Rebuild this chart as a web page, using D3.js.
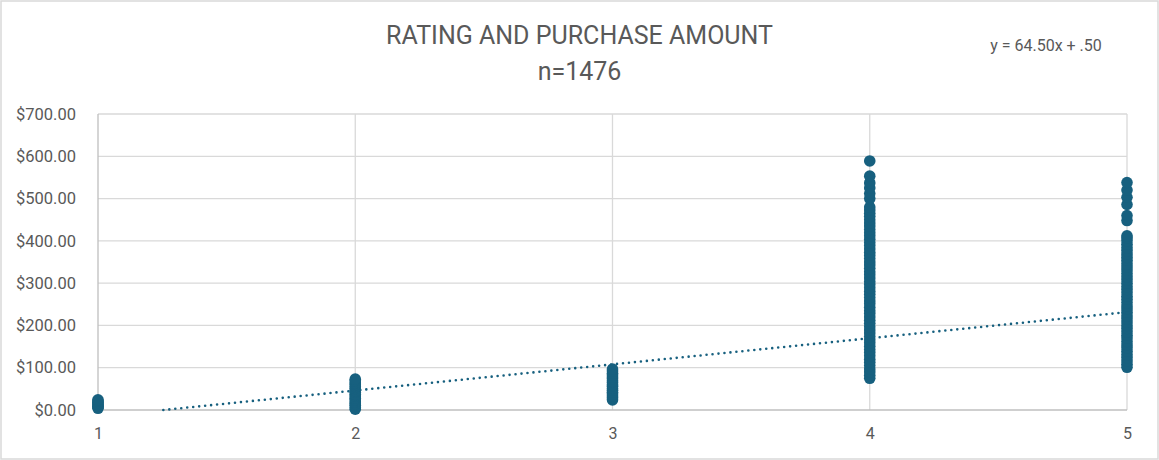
<!DOCTYPE html>
<html>
<head>
<meta charset="utf-8">
<script src="https://cdn.jsdelivr.net/npm/d3@7"></script>
<style>
  html, body { margin: 0; padding: 0; background: #fff; }
  svg { display: block; font-family: Roboto, "Liberation Sans", sans-serif; }
</style>
</head>
<body>
<div id="chart"></div>
<script>
// Rating categories and purchase amounts (dense columns are listed at ~$8 steps)
const ratings = [1, 2, 3, 4, 5];
const rating1 = [4, 7, 9, 12, 15, 18, 21, 24];
const rating2 = [2, 6, 11, 15, 19, 24, 28, 33, 37, 42, 46, 51, 55, 60, 64, 69, 73];
const rating3 = [24, 29, 33, 38, 42, 47, 51, 56, 60, 65, 69, 74, 78, 83, 87, 92, 97];
const rating4 = [75, 82, 90, 97, 105, 113, 120, 128, 136, 143, 151, 159, 166, 174, 182, 189,
  197, 205, 212, 220, 228, 235, 243, 251, 258, 266, 274, 281, 289, 297, 304, 312, 320, 327,
  335, 343, 350, 358, 366, 373, 381, 389, 396, 404, 412, 419, 427, 435, 442, 450, 458, 465,
  473, 480, 500, 512, 525, 537, 553, 589];
const rating5 = [101, 108, 116, 124, 131, 139, 147, 154, 162, 170, 177, 185, 193, 200, 208,
  216, 223, 231, 239, 246, 254, 262, 269, 277, 285, 292, 300, 308, 315, 323, 331, 338, 346,
  354, 361, 369, 377, 384, 392, 400, 407, 412, 448, 460, 486, 503, 520, 538];
const yTicks = [0, 100, 200, 300, 400, 500, 600, 700];
// Linear trendline as drawn, and its label as printed
const trendSlope = 61.8;
const trendIntercept = -77.5;
const trendLabel = "y = 64.50x + .50";
const title = ["RATING AND PURCHASE AMOUNT", "n=1476"];

const points = [
  ...rating1.map((v) => ({ rating: 1, amount: v })),
  ...rating2.map((v) => ({ rating: 2, amount: v })),
  ...rating3.map((v) => ({ rating: 3, amount: v })),
  ...rating4.map((v) => ({ rating: 4, amount: v })),
  ...rating5.map((v) => ({ rating: 5, amount: v })),
];

const width = 1159, height = 460;
const margins = { top: 114, right: 32, bottom: 50, left: 98 };
const color = "#17607f";

const svg = d3.select("#chart").append("svg")
  .attr("width", width)
  .attr("height", height);

// chart border
svg.append("rect")
  .attr("x", 1).attr("y", 1)
  .attr("width", width - 2).attr("height", height - 2)
  .attr("fill", "#fff").attr("stroke", "#d9d9d9").attr("stroke-width", 1.5);

const x = d3.scaleLinear().domain([1, 5]).range([margins.left, width - margins.right]);
const y = d3.scaleLinear().domain([0, 700]).range([height - margins.bottom, margins.top]);

// Gridlines
svg.append("g").selectAll("line.h")
  .data(yTicks.slice(1))
  .join("line")
  .attr("x1", x(1)).attr("x2", x(5))
  .attr("y1", (d) => y(d)).attr("y2", (d) => y(d))
  .attr("stroke", "#d9d9d9").attr("stroke-width", 1.3);

svg.append("g").selectAll("line.v")
  .data(ratings)
  .join("line")
  .attr("x1", (d) => x(d)).attr("x2", (d) => x(d))
  .attr("y1", y(700)).attr("y2", y(0))
  .attr("stroke", (d) => (d === 1 ? "#bfbfbf" : "#d9d9d9")).attr("stroke-width", 1.3);

// x axis line
svg.append("line")
  .attr("x1", x(1)).attr("x2", x(5))
  .attr("y1", y(0)).attr("y2", y(0))
  .attr("stroke", "#bfbfbf").attr("stroke-width", 1.5);

// Y axis labels
const yAxis = svg.append("g")
  .attr("transform", `translate(${margins.left - 22},0)`)
  .call(d3.axisLeft(y).tickValues(yTicks).tickSize(0).tickPadding(0)
    .tickFormat((d) => "$" + d3.format(",.2f")(d)));
yAxis.select(".domain").remove();
yAxis.selectAll("text")
  .attr("font-size", "16.5px").attr("fill", "#595959")
  .attr("font-family", "Roboto, sans-serif");

// X axis labels
const xAxis = svg.append("g")
  .attr("transform", `translate(0,${y(0) + 18})`)
  .call(d3.axisBottom(x).tickValues(ratings).tickSize(0).tickPadding(0)
    .tickFormat(d3.format("d")));
xAxis.select(".domain").remove();
xAxis.selectAll("text")
  .attr("font-size", "16px").attr("fill", "#595959")
  .attr("font-family", "Roboto, sans-serif");

// Points
svg.append("g").selectAll("circle")
  .data(points)
  .join("circle")
  .attr("cx", (d) => x(d.rating))
  .attr("cy", (d) => y(d.amount))
  .attr("r", 5.8)
  .attr("fill", color);

// Trendline (clipped at $0)
const xStart = -trendIntercept / trendSlope;
svg.append("line")
  .attr("x1", x(xStart)).attr("y1", y(trendSlope * xStart + trendIntercept))
  .attr("x2", x(5)).attr("y2", y(trendSlope * 5 + trendIntercept))
  .attr("stroke", color).attr("stroke-width", 2.6)
  .attr("stroke-linecap", "round")
  .attr("stroke-dasharray", "0,6");

// Title
svg.append("g").selectAll("text")
  .data(title)
  .join("text")
  .attr("x", width / 2)
  .attr("y", (d, i) => 44 + i * 36)
  .attr("text-anchor", "middle")
  .attr("font-size", "25px")
  .attr("fill", "#595959")
  .attr("font-family", "Roboto, sans-serif")
  .text((d) => d);

// Trendline label
svg.append("text")
  .attr("x", 1046).attr("y", 51)
  .attr("text-anchor", "middle")
  .attr("font-size", "16px")
  .attr("fill", "#595959")
  .text(trendLabel);
</script>
</body>
</html>
